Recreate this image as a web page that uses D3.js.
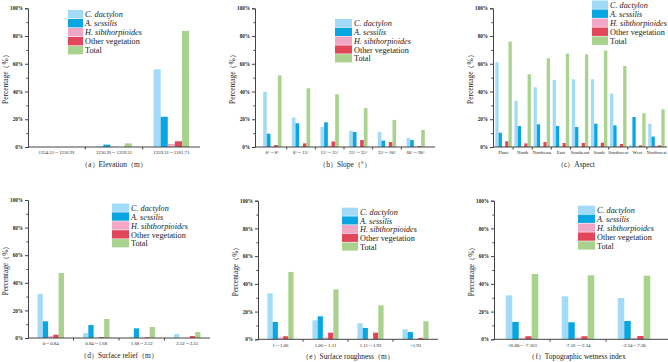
<!DOCTYPE html>
<html lang="en">
<head>
<meta charset="UTF-8">
<title>Vegetation percentage by terrain factor</title>
<script src="https://d3js.org/d3.v7.min.js"></script>
<style>
  body { margin: 0; background: #fff; }
  text { font-family: "Liberation Serif", "Times New Roman", serif; fill: #222; }
</style>
</head>
<body>
<script>
    const width  = 668;
    const height = 362;

    const series = ["C. dactylon", "A. sessilis", "H. sibthorpioides", "Other vegetation", "Total"];
    const italicSeries = [true, true, true, false, false];
    const colors = ["#a2dbf7", "#0aa6e1", "#f3a7c7", "#e1465b", "#a9d28e"];
    const yTicks = [0, 20, 40, 60, 80, 100];
    const yMinor = [10, 30, 50, 70, 90];

    // (a) Elevation
    const elevLabels = ["1254.51～1256.91", "1256.91～1259.31", "1259.31～1261.71"];
    const elevC = [0, 0.5, 56.0];
    const elevA = [0, 1.7, 21.8];
    const elevH = [0, 0, 2.2];
    const elevO = [0, 0, 4.1];
    const elevT = [0, 2.6, 83.7];

    // (b) Slope
    const slopeLabels = ["0°～8°", "8°～15°", "15°～25°", "25°～35°", "35°～60°", "60°～90°"];
    const slopeC = [39.8, 21.2, 14.4, 11.8, 10.8, 6.5];
    const slopeA = [9.6, 17.1, 17.8, 10.8, 4.6, 5.0];
    const slopeH = [0.4, 0.4, 1.0, 0.2, 0.1, 0.1];
    const slopeO = [1.4, 2.6, 4.0, 5.0, 3.6, 0.7];
    const slopeT = [51.7, 42.3, 38.0, 28.1, 19.5, 12.3];

    // (c) Aspect
    const aspectLabels = ["Plane", "North", "Northeast", "East", "Southeast", "South", "Southwest", "West", "Northwest"];
    const aspectC = [61.2, 33.4, 43.0, 48.3, 48.8, 48.8, 38.5, 1.0, 16.8];
    const aspectA = [10.3, 15.1, 16.3, 15.1, 14.4, 16.8, 15.6, 21.6, 7.5];
    const aspectH = [0.3, 0.6, 0.5, 0.2, 0.2, 0.2, 0.6, 0.2, 1.0];
    const aspectO = [4.1, 2.6, 3.6, 2.9, 2.9, 3.1, 2.2, 1.2, 1.2];
    const aspectT = [76.0, 52.4, 63.9, 67.3, 66.8, 69.5, 58.4, 24.3, 27.2];

    // (d) Surface relief
    const reliefLabels = ["0～0.84", "0.84～1.68", "1.68～2.52", "2.52～3.35"];
    const reliefC = [31.9, 3.6, 0.3, 2.9];
    const reliefA = [12.1, 9.4, 7.0, 0];
    const reliefH = [1.4, 0, 0, 0];
    const reliefO = [2.4, 0.7, 0.5, 1.4];
    const reliefT = [47.1, 13.8, 8.0, 4.3];

    // (e) Surface roughness
    const roughLabels = ["1～1.06", "1.06～1.11", "1.11～1.92", ">1.92"];
    const roughC = [33.2, 13.7, 11.5, 7.2];
    const roughA = [12.5, 16.6, 8.2, 5.3];
    const roughH = [1.4, 1.4, 0.3, 0];
    const roughO = [2.2, 4.8, 4.8, 1.0];
    const roughT = [48.6, 36.0, 24.5, 13.0];

    // (f) Topographic wetness index
    const twiLabels = ["-16.80～-7.163", "-7.16～-2.34", "-2.34～7.30"];
    const twiC = [31.7, 31.0, 29.8];
    const twiA = [12.5, 12.3, 13.2];
    const twiH = [1.0, 1.2, 1.0];
    const twiO = [2.2, 2.2, 2.4];
    const twiT = [47.1, 46.2, 45.9];

    const panels = [
        {title: "（a）Elevation（m）", labels: elevLabels, values: [elevC, elevA, elevH, elevO, elevT],
         axis: [28, 200], band: [28, 200], y: [147, 8.3], frac: 0.62, legend: [68, 10, 15, 9]},
        {title: "（b）Slope（°）", labels: slopeLabels, values: [slopeC, slopeA, slopeH, slopeO, slopeT],
         axis: [255, 435], band: [258, 430], y: [147, 8.3], frac: 0.64, legend: [335, 19, 17, 8.8]},
        {title: "（c）Aspect", labels: aspectLabels, values: [aspectC, aspectA, aspectH, aspectO, aspectT],
         axis: [493, 667], band: [494, 666], y: [147, 8.3], frac: 0.86, legend: [592, 0.5, 16, 9]},
        {title: "（d）Surface relief（m）", labels: reliefLabels, values: [reliefC, reliefA, reliefH, reliefO, reliefT],
         axis: [28, 210], band: [28, 210], y: [338, 200], frac: 0.58, legend: [112, 203.5, 17, 8.9]},
        {title: "（e）Surface roughness（m）", labels: roughLabels, values: [roughC, roughA, roughH, roughO, roughT],
         axis: [258, 438], band: [258, 438], y: [339.3, 200.7], frac: 0.58, legend: [342, 207.7, 16, 8.7]},
        {title: "（f）Topographic wetness index", labels: twiLabels, values: [twiC, twiA, twiH, twiO, twiT],
         axis: [494, 668], band: [494, 662], y: [339.3, 200.7], frac: 0.58, legend: [578, 205.7, 17, 8.9]}
    ];

    const svg = d3.select("body").append("svg").attr("width", width).attr("height", height);

    function drawPanel(p) {
        const g = svg.append("g");
        const x = d3.scaleBand().domain(p.labels).range(p.band).padding(0);
        const y = d3.scaleLinear().domain([0, 100]).range(p.y);
        const bw = x.bandwidth();
        const inner = d3.scaleBand().domain(series).range([bw * (1 - p.frac) / 2, bw * (1 + p.frac) / 2]).padding(0);

        // bars
        series.forEach((s, i) => {
            g.append("g").selectAll("rect")
                .data(p.labels.map((l, j) => ({label: l, v: p.values[i][j]})))
                .join("rect")
                .attr("x", d => x(d.label) + inner(s))
                .attr("width", inner.bandwidth())
                .attr("y", d => y(d.v))
                .attr("height", d => y(0) - y(d.v))
                .attr("fill", colors[i]);
        });

        // y axis
        const yAxis = d3.axisLeft(y).tickValues(yTicks).tickFormat(d => d + "%").tickSize(3).tickPadding(2);
        const ya = g.append("g").attr("transform", "translate(" + p.axis[0] + ",0)").call(yAxis);
        ya.select(".domain").attr("stroke", "#444");
        ya.selectAll(".tick line").attr("stroke", "#444");
        ya.selectAll("text").attr("font-size", 5.2).attr("font-weight", "bold").attr("fill", "#333")
            .style("font-family", "'Liberation Serif', serif");
        const ym = g.append("g").attr("transform", "translate(" + p.axis[0] + ",0)")
            .call(d3.axisLeft(y).tickValues(yMinor).tickFormat("").tickSize(1.6));
        ym.select(".domain").remove();
        ym.selectAll(".tick line").attr("stroke", "#444");

        // x axis
        const xAxis = d3.axisBottom(x).tickSize(0).tickPadding(4);
        const xa = g.append("g").attr("transform", "translate(0," + y(0) + ")").call(xAxis);
        xa.select(".domain").remove();
        xa.selectAll("text").attr("font-size", 4.8).attr("fill", "#333")
            .style("font-family", "'Liberation Serif', serif");
        g.append("line")
            .attr("x1", p.axis[0]).attr("x2", p.axis[1])
            .attr("y1", y(0)).attr("y2", y(0))
            .attr("stroke", "#444");
        g.append("g").selectAll("line")
            .data(p.labels.slice(1))
            .join("line")
            .attr("x1", d => x(d)).attr("x2", d => x(d))
            .attr("y1", y(0)).attr("y2", y(0) + 2.5)
            .attr("stroke", "#444");

        // titles
        g.append("text")
            .attr("x", (p.axis[0] + p.axis[1]) / 2 - (p.axis[1] > 660 ? 4 : 0))
            .attr("y", y(0) + 19.5)
            .attr("text-anchor", "middle")
            .attr("font-size", 7.4)
            .text(p.title);
        g.append("text")
            .attr("transform", "translate(" + (p.axis[0] - 20) + "," + ((p.y[0] + p.y[1]) / 2) + ") rotate(-90)")
            .attr("text-anchor", "middle")
            .attr("font-size", 7.4)
            .text("Percentage（%）");

        // legend
        const [lx, ly, sw, rh] = p.legend;
        const lg = g.append("g").attr("transform", "translate(" + lx + "," + ly + ")");
        series.forEach((s, i) => {
            lg.append("rect")
                .attr("x", 0).attr("y", i * rh)
                .attr("width", sw).attr("height", rh - 0.6)
                .attr("fill", colors[i]);
            lg.append("text")
                .attr("x", sw + 2).attr("y", i * rh + rh / 2)
                .attr("dy", "0.35em")
                .attr("font-size", 8.2)
                .attr("font-style", italicSeries[i] ? "italic" : "normal")
                .text(s);
        });
    }

    panels.forEach(drawPanel);
</script>
</body>
</html>
